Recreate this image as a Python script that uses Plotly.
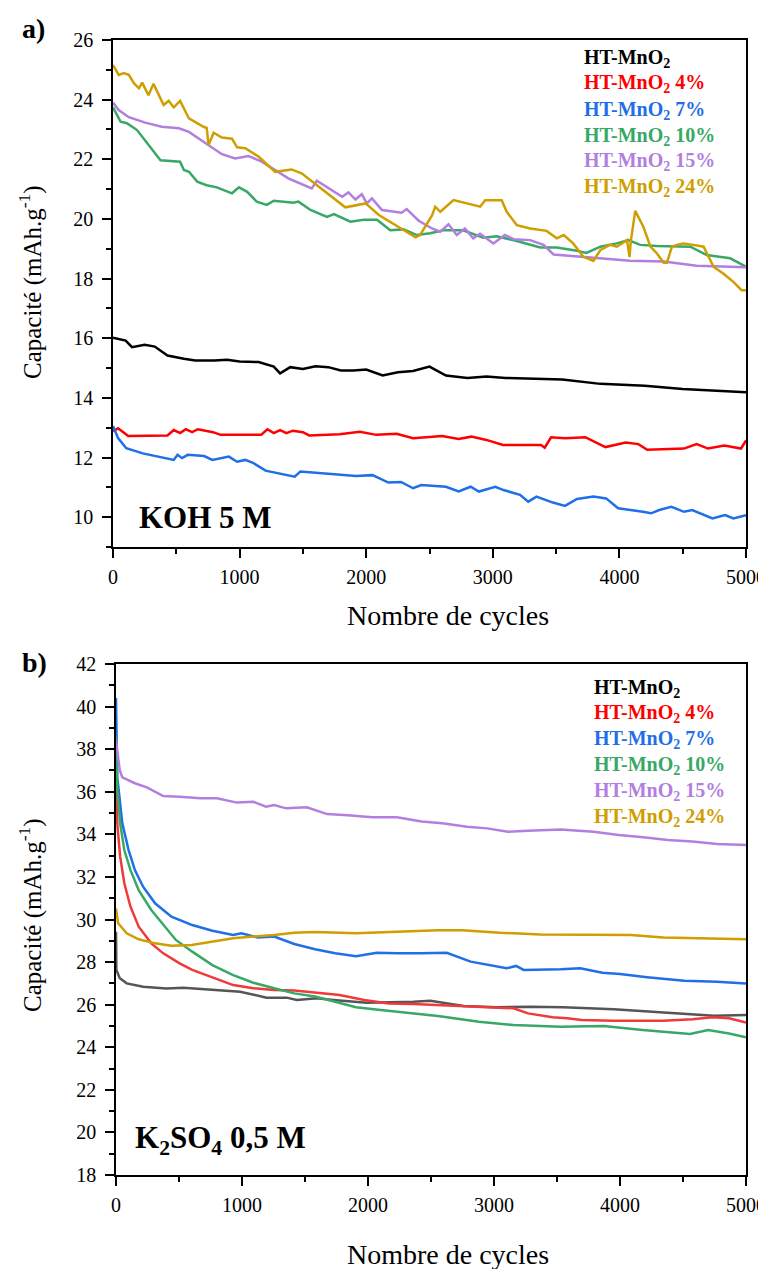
import plotly.graph_objects as go

W, H = 766, 1269
OFF = 8  # the page body adds an 8 px margin; positions below are in reference pixels

# ---- panel a) KOH 5 M ----
a_black_x = [0, 100, 150, 250, 330, 430, 560, 650, 800, 900, 1000, 1150, 1270, 1320, 1400, 1500, 1600, 1700,
             1800, 1900, 2000, 2130, 2250, 2370, 2500, 2630, 2800, 2950, 3100, 3300, 3550, 3850, 4200, 4500,
             4800, 5000]
a_black_y = [16.02, 15.92, 15.70, 15.78, 15.72, 15.42, 15.31, 15.25, 15.25, 15.28, 15.22, 15.20, 15.05, 14.82,
             15.03, 14.97, 15.06, 15.03, 14.92, 14.92, 14.95, 14.75, 14.86, 14.90, 15.05, 14.75, 14.67, 14.72,
             14.67, 14.64, 14.62, 14.47, 14.41, 14.30, 14.22, 14.19]

a_red_x = [0, 40, 120, 430, 480, 530, 575, 625, 670, 740, 790, 850, 1170, 1220, 1270, 1320, 1370, 1420, 1500,
           1550, 1790, 1950, 2080, 2240, 2370, 2600, 2730, 2830, 2950, 3080, 3380, 3410, 3460, 3570, 3730, 3890,
           4050, 4150, 4220, 4510, 4610, 4700, 4830, 4960, 5000]
a_red_y = [12.88, 12.98, 12.72, 12.74, 12.92, 12.82, 12.95, 12.85, 12.95, 12.88, 12.85, 12.76, 12.76, 12.95,
           12.82, 12.92, 12.82, 12.90, 12.85, 12.74, 12.78, 12.86, 12.76, 12.80, 12.65, 12.72, 12.62, 12.70,
           12.59, 12.42, 12.42, 12.33, 12.68, 12.65, 12.68, 12.35, 12.50, 12.45, 12.26, 12.30, 12.45, 12.30,
           12.40, 12.30, 12.57]

a_blue_x = [0, 40, 105, 235, 480, 510, 545, 590, 720, 785, 915, 980, 1045, 1110, 1205, 1435, 1480, 1595, 1755,
            1920, 2050, 2175, 2275, 2370, 2435, 2630, 2730, 2825, 2890, 3020, 3085, 3215, 3280, 3345, 3475, 3570,
            3665, 3795, 3895, 3990, 4185, 4250, 4315, 4410, 4510, 4575, 4735, 4835, 4900, 5000]
a_blue_y = [13.06, 12.65, 12.31, 12.14, 11.92, 12.09, 11.98, 12.09, 12.05, 11.92, 12.03, 11.86, 11.92, 11.81,
            11.56, 11.36, 11.53, 11.49, 11.45, 11.38, 11.41, 11.16, 11.18, 10.97, 11.08, 11.02, 10.86, 11.02,
            10.86, 11.02, 10.91, 10.75, 10.52, 10.69, 10.49, 10.38, 10.61, 10.69, 10.63, 10.30, 10.18, 10.13,
            10.24, 10.35, 10.18, 10.24, 9.96, 10.07, 9.96, 10.07]

a_green_x = [0, 60, 110, 190, 375, 530, 560, 600, 665, 740, 820, 940, 995, 1060, 1135, 1215, 1270, 1350, 1425,
             1465, 1560, 1690, 1745, 1875, 1980, 2085, 2190, 2295, 2400, 2505, 2610, 2765, 2925, 3030, 3190, 3375,
             3505, 3665, 3740, 3850, 3980, 4070, 4165, 4295, 4560, 4690, 4875, 5000]
a_green_y = [23.74, 23.26, 23.21, 22.98, 21.97, 21.92, 21.64, 21.58, 21.25, 21.13, 21.06, 20.86, 21.06, 20.91,
             20.58, 20.47, 20.61, 20.58, 20.54, 20.58, 20.30, 20.07, 20.16, 19.91, 19.97, 19.97, 19.62, 19.65,
             19.46, 19.52, 19.62, 19.62, 19.37, 19.42, 19.26, 19.04, 19.04, 18.93, 18.86, 19.07, 19.18, 19.29,
             19.13, 19.09, 19.07, 18.79, 18.68, 18.40]

a_purple_x = [0, 45, 125, 255, 385, 520, 600, 730, 860, 965, 1070, 1175, 1385, 1570, 1610, 1810, 1860, 1915,
              1965, 2005, 2045, 2125, 2280, 2320, 2415, 2520, 2585, 2650, 2715, 2780, 2845, 2900, 3005, 3095,
              3165, 3295, 3400, 3480, 3820, 4085, 4350, 4480, 4610, 4875, 5000]
a_purple_y = [23.90, 23.65, 23.41, 23.23, 23.09, 23.04, 22.92, 22.53, 22.17, 22.03, 22.11, 21.92, 21.36, 21.02,
              21.28, 20.74, 20.89, 20.65, 20.83, 20.52, 20.69, 20.30, 20.21, 20.33, 19.94, 19.68, 19.57, 19.82,
              19.46, 19.68, 19.35, 19.50, 19.18, 19.46, 19.32, 19.29, 19.13, 18.81, 18.68, 18.60, 18.57, 18.51,
              18.43, 18.40, 18.38]

a_gold_x = [0, 45, 85, 125, 165, 205, 230, 280, 320, 400, 440, 480, 530, 600, 715, 740, 755, 795, 860, 940, 980,
            1045, 1150, 1280, 1410, 1490, 1835, 1995, 2100, 2255, 2390, 2425, 2520, 2545, 2585, 2690, 2900, 2940,
            3070, 3110, 3190, 3295, 3425, 3505, 3560, 3635, 3715, 3795, 3850, 3925, 3980, 4060, 4080, 4090, 4125,
            4190, 4245, 4295, 4350, 4375, 4415, 4455, 4505, 4585, 4665, 4745, 4820, 4900, 4965, 5000]
a_gold_y = [25.16, 24.83, 24.89, 24.83, 24.55, 24.38, 24.57, 24.15, 24.53, 23.82, 23.96, 23.74, 23.96, 23.37,
            23.09, 23.05, 22.48, 22.89, 22.73, 22.69, 22.40, 22.37, 22.09, 21.58, 21.66, 21.53, 20.39, 20.52,
            20.13, 19.74, 19.38, 19.46, 20.12, 20.41, 20.24, 20.63, 20.41, 20.63, 20.63, 20.24, 19.79, 19.68,
            19.60, 19.35, 19.46, 19.18, 18.73, 18.59, 18.96, 19.13, 19.07, 19.29, 18.72, 19.25, 20.27, 19.73,
            19.07, 18.85, 18.53, 18.53, 19.07, 19.13, 19.18, 19.13, 19.07, 18.39, 18.17, 17.89, 17.61, 17.61]

# ---- panel b) K2SO4 0,5 M ----
b_black_x = [0, 3, 30, 85, 215, 400, 535, 800, 985, 1195, 1355, 1435, 1595, 1725, 1990, 2360, 2495, 2760, 3025,
             3290, 3550, 3950, 4215, 4480, 4745, 5000]
b_black_y = [29.43, 27.63, 27.24, 27.00, 26.84, 26.76, 26.79, 26.70, 26.61, 26.33, 26.33, 26.22, 26.30, 26.22,
             26.09, 26.14, 26.18, 25.94, 25.88, 25.90, 25.88, 25.78, 25.67, 25.56, 25.48, 25.52]

b_red_x = [0, 10, 33, 66, 115, 180, 280, 375, 505, 605, 765, 930, 1090, 1255, 1415, 1580, 1775, 1970, 2165, 2360,
           2555, 2815, 3045, 3155, 3270, 3465, 3580, 3695, 3950, 4345, 4575, 4735, 4865, 5000]
b_red_y = [37.2, 34.52, 32.95, 31.70, 30.60, 29.66, 28.88, 28.41, 27.94, 27.63, 27.28, 26.92, 26.77, 26.69,
           26.66, 26.56, 26.45, 26.22, 26.06, 26.03, 25.98, 25.90, 25.83, 25.83, 25.59, 25.41, 25.36, 25.28,
           25.25, 25.25, 25.31, 25.41, 25.36, 25.16]

b_blue_x = [0, 10, 50, 100, 150, 215, 310, 440, 605, 765, 930, 995, 1125, 1255, 1415, 1580, 1740, 1905, 2070,
            2230, 2425, 2625, 2815, 3045, 3100, 3175, 3235, 3530, 3685, 3860, 4000, 4215, 4510, 4770, 5000]
b_blue_y = [40.4, 36.7, 34.52, 33.26, 32.32, 31.54, 30.76, 30.13, 29.74, 29.47, 29.27, 29.35, 29.16, 29.20,
            28.85, 28.60, 28.41, 28.28, 28.44, 28.41, 28.41, 28.44, 28.02, 27.78, 27.71, 27.82, 27.63, 27.66,
            27.71, 27.50, 27.44, 27.29, 27.12, 27.08, 27.00]

b_green_x = [0, 10, 33, 66, 115, 180, 280, 375, 475, 605, 765, 930, 1090, 1255, 1415, 1580, 1740, 1905, 2100,
             2230, 2555, 2880, 3155, 3530, 3870, 4180, 4555, 4700, 4865, 5000]
b_green_y = [38.6, 36.08, 34.52, 33.26, 32.32, 31.38, 30.45, 29.74, 29.04, 28.49, 27.86, 27.39, 27.03, 26.77,
             26.53, 26.38, 26.14, 25.88, 25.75, 25.67, 25.47, 25.20, 25.04, 24.96, 25.00, 24.81, 24.62, 24.81,
             24.65, 24.47]

b_purple_x = [0, 30, 50, 150, 245, 375, 505, 670, 800, 960, 1090, 1190, 1255, 1350, 1515, 1675, 1840, 2035,
              2230, 2425, 2590, 2785, 2945, 3110, 3270, 3530, 3790, 3990, 4185, 4380, 4575, 4770, 5000]
b_purple_y = [38.4, 37.0, 36.68, 36.40, 36.21, 35.80, 35.77, 35.69, 35.69, 35.49, 35.53, 35.30, 35.38, 35.22,
              35.27, 34.95, 34.90, 34.80, 34.80, 34.60, 34.52, 34.36, 34.28, 34.12, 34.17, 34.23, 34.12, 33.97,
              33.86, 33.73, 33.66, 33.55, 33.50]

b_gold_x = [0, 17, 85, 180, 310, 440, 600, 765, 930, 1090, 1255, 1415, 1580, 1905, 2230, 2555, 2750, 3045, 3370,
            3695, 4085, 4345, 4670, 5000]
b_gold_y = [30.52, 29.82, 29.35, 29.07, 28.88, 28.77, 28.80, 28.96, 29.12, 29.20, 29.27, 29.38, 29.41, 29.35,
            29.43, 29.50, 29.50, 29.38, 29.30, 29.30, 29.27, 29.16, 29.12, 29.07]

labels = ["", " 4%", " 7%", " 10%", " 15%", " 24%"]
colors = ["#000000", "#ff0000", "#1f6fe6", "#37a866", "#b27fe0", "#cf9e00"]
colors_b = ["#555555", "#f03a3a", "#1f6fe6", "#37a866", "#b27fe0", "#cf9e00"]

series_a = [(a_black_x, a_black_y), (a_red_x, a_red_y), (a_blue_x, a_blue_y),
            (a_green_x, a_green_y), (a_purple_x, a_purple_y), (a_gold_x, a_gold_y)]
series_b = [(b_black_x, b_black_y), (b_red_x, b_red_y), (b_blue_x, b_blue_y),
            (b_green_x, b_green_y), (b_purple_x, b_purple_y), (b_gold_x, b_gold_y)]

FONT = "Liberation Serif"


def px(x):
    return (x - OFF) / W


def py(y):
    return 1 - (y - OFF) / H


fig = go.Figure()
for (xs, ys), c in zip(series_a, colors):
    fig.add_trace(go.Scatter(x=xs, y=ys, mode="lines", line=dict(color=c, width=2.5),
                             xaxis="x", yaxis="y", showlegend=False))
for (xs, ys), c in zip(series_b, colors_b):
    fig.add_trace(go.Scatter(x=xs, y=ys, mode="lines", line=dict(color=c, width=2.5),
                             xaxis="x2", yaxis="y2", showlegend=False))

axis_common = dict(showline=True, linecolor="black", linewidth=1.5, mirror=True,
                   ticks="outside", ticklen=9, tickwidth=1.5, tickcolor="black",
                   showgrid=False, zeroline=False, automargin=False,
                   tickfont=dict(family=FONT, size=20, color="black"))

fig.update_layout(
    width=W, height=H,
    margin=dict(l=0, r=0, t=0, b=0),
    paper_bgcolor="white", plot_bgcolor="white",
    font=dict(family=FONT, color="black"),
    xaxis=dict(domain=[px(113), px(746)], anchor="y", range=[0, 5000], dtick=1000,
               minor=dict(ticks="outside", dtick=500, ticklen=5, tickwidth=1.5, tickcolor="black"),
               ticklabelstandoff=2, **axis_common),
    yaxis=dict(domain=[py(547), py(40)], anchor="x", range=[9, 26], dtick=2,
               minor=dict(ticks="outside", dtick=1, ticklen=5, tickwidth=1.5, tickcolor="black"),
               ticklabelstandoff=5, **axis_common),
    xaxis2=dict(domain=[px(116), px(746)], anchor="y2", range=[0, 5000], dtick=1000,
                minor=dict(ticks="outside", dtick=500, ticklen=5, tickwidth=1.5, tickcolor="black"),
                ticklabelstandoff=2, **axis_common),
    yaxis2=dict(domain=[py(1175), py(664)], anchor="x2", range=[18, 42], dtick=2,
                minor=dict(ticks="outside", dtick=1, ticklen=5, tickwidth=1.5, tickcolor="black"),
                ticklabelstandoff=5, **axis_common),
)

ann = []


def text(x, y, s, size, bold=False, color="black", angle=0, xanchor="center"):
    if bold:
        s = "<b>" + s + "</b>"
    ann.append(dict(x=px(x), y=py(y), xref="paper", yref="paper", text=s, showarrow=False,
                    textangle=angle, xanchor=xanchor, yanchor="middle",
                    font=dict(family=FONT, size=size, color=color)))


# panel letters
text(20, 28, "a)", 28, bold=True, xanchor="left")
text(20, 662, "b)", 28, bold=True, xanchor="left")

# axis titles
text(30, 282, "Capacité (mAh.g<sup>-1</sup>)", 25, angle=-90)
text(30, 915, "Capacité (mAh.g<sup>-1</sup>)", 25, angle=-90)
text(448, 615, "Nombre de cycles", 28)
text(448, 1254, "Nombre de cycles", 28)

# electrolyte labels
text(137, 517, "KOH 5 M", 31, bold=True, xanchor="left")
text(133, 1140, "K<sub>2</sub>SO<sub>4</sub> 0,5 M", 31, bold=True, xanchor="left")

# legends (coloured text)
for i, (lab, c) in enumerate(zip(labels, colors)):
    text(582, 58 + i * 26, "HT-MnO<sub>2</sub>" + lab, 20, bold=True, color=c, xanchor="left")
    text(592, 688 + i * 25.8, "HT-MnO<sub>2</sub>" + lab, 20, bold=True, color=c, xanchor="left")

fig.update_layout(annotations=ann)

fig.write_html("out.html")
